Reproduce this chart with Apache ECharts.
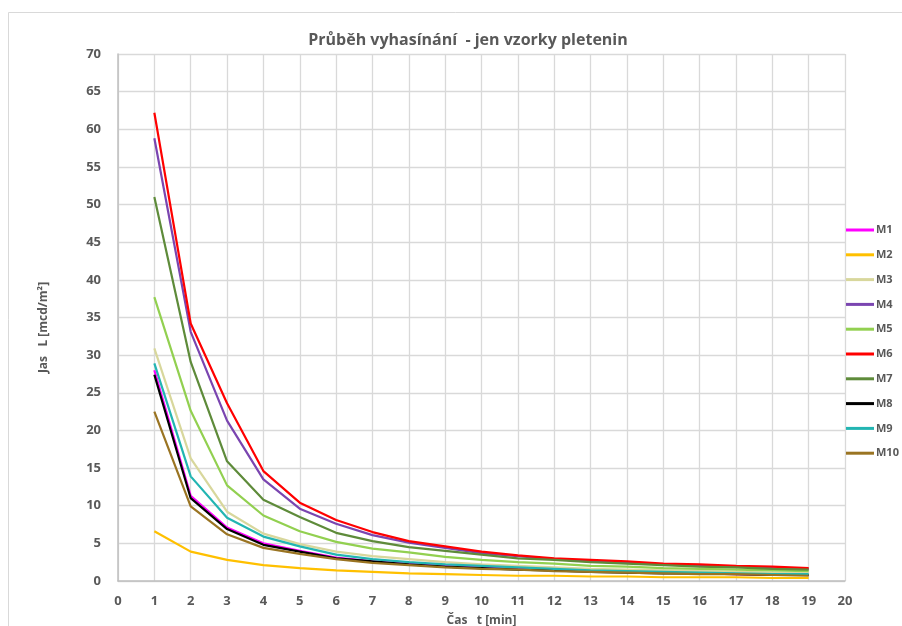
<!DOCTYPE html>
<html>
<head>
<meta charset="utf-8">
<script src="https://cdn.jsdelivr.net/npm/echarts@6/dist/echarts.min.js"></script>
<style>
  html, body { margin: 0; padding: 0; background: #fff; }
  #chart { width: 902px; height: 626px; }
</style>
</head>
<body>
<div id="chart"></div>
<script>
// Time in minutes
const times = [1, 2, 3, 4, 5, 6, 7, 8, 9, 10, 11, 12, 13, 14, 15, 16, 17, 18, 19];

// Luminance L [mcd/m²] per knitted sample
const M1  = [28.0, 11.3, 7.1, 5.0, 4.0, 3.1, 2.6, 2.3, 2.0, 1.8, 1.6, 1.4, 1.3, 1.2, 1.1, 1.0, 0.9, 0.8, 0.8];
const M2  = [6.6, 3.9, 2.8, 2.1, 1.7, 1.4, 1.2, 1.0, 0.9, 0.8, 0.7, 0.7, 0.6, 0.6, 0.5, 0.5, 0.5, 0.4, 0.4];
const M3  = [30.9, 16.3, 9.2, 6.3, 4.9, 3.9, 3.3, 2.9, 2.5, 2.2, 2.0, 1.8, 1.6, 1.5, 1.4, 1.3, 1.2, 1.1, 1.0];
const M4  = [58.8, 33.1, 21.3, 13.5, 9.6, 7.6, 6.1, 5.1, 4.4, 3.7, 3.3, 2.9, 2.6, 2.4, 2.2, 2.0, 1.9, 1.7, 1.6];
const M5  = [37.7, 22.6, 12.7, 8.7, 6.6, 5.2, 4.3, 3.8, 3.2, 2.8, 2.5, 2.3, 2.0, 1.9, 1.7, 1.6, 1.5, 1.4, 1.3];
const M6  = [62.2, 34.2, 23.6, 14.6, 10.4, 8.1, 6.5, 5.3, 4.6, 3.9, 3.4, 3.0, 2.8, 2.6, 2.3, 2.2, 2.0, 1.9, 1.7];
const M7  = [51.0, 29.1, 15.9, 10.8, 8.5, 6.4, 5.3, 4.5, 4.0, 3.5, 3.0, 2.8, 2.5, 2.3, 2.1, 1.9, 1.8, 1.6, 1.5];
const M8  = [27.4, 11.0, 6.9, 4.8, 3.9, 3.0, 2.6, 2.2, 1.9, 1.7, 1.5, 1.4, 1.2, 1.1, 1.0, 1.0, 0.9, 0.8, 0.8];
const M9  = [28.9, 13.9, 8.4, 5.9, 4.6, 3.5, 2.9, 2.5, 2.2, 2.0, 1.8, 1.6, 1.4, 1.3, 1.2, 1.1, 1.0, 0.9, 0.9];
const M10 = [22.5, 9.9, 6.2, 4.4, 3.6, 2.9, 2.4, 2.1, 1.8, 1.6, 1.5, 1.3, 1.2, 1.1, 1.0, 0.9, 0.9, 0.8, 0.7];

const seriesNames = ['M1', 'M2', 'M3', 'M4', 'M5', 'M6', 'M7', 'M8', 'M9', 'M10'];
const seriesValues = [M1, M2, M3, M4, M5, M6, M7, M8, M9, M10];
const seriesColors = ['#FF00FF', '#FFC000', '#D8D79C', '#7A45B0', '#92D050', '#FF0000', '#5E8B3A', '#000000', '#22B5B2', '#9A7422'];

const labelColor = '#595959';
const gridColor = '#d9d9d9';

const chart = echarts.init(document.getElementById('chart'), null, { renderer: 'canvas' });

chart.setOption({
  backgroundColor: '#ffffff',
  animation: false,
  title: {
    text: 'Průběh vyhasínání  - jen vzorky pletenin',
    left: 463,
    textAlign: 'center',
    top: 27,
    textStyle: { fontFamily: 'Open Sans', fontSize: 16, fontWeight: 'bold', color: labelColor }
  },
  graphic: [{
    type: 'rect',
    shape: { x: 8.5, y: 12.5, width: 900, height: 640 },
    style: { fill: 'none', stroke: gridColor, lineWidth: 1 },
    silent: true,
    z: -1
  }],
  legend: {
    orient: 'vertical',
    left: 841,
    top: 218,
    itemWidth: 28,
    itemHeight: 3,
    itemGap: 10.8,
    icon: 'rect',
    textStyle: { fontFamily: 'Open Sans', fontSize: 11, fontWeight: 'bold', color: labelColor, lineHeight: 14, padding: [0, 0, 0, -3] },
    data: seriesNames
  },
  grid: { left: 118, right: 57, top: 54, bottom: 45, containLabel: false, outerBoundsMode: 'none' },
  xAxis: {
    type: 'value',
    min: 0,
    max: 20,
    interval: 1,
    name: 'Čas   t [min]',
    nameLocation: 'middle',
    nameGap: 34,
    nameTextStyle: { fontFamily: 'Open Sans', fontSize: 12, fontWeight: 'bold', color: labelColor },
    axisLine: { show: true, lineStyle: { color: '#bfbfbf', width: 1.5 } },
    axisTick: { show: false },
    axisLabel: { fontFamily: 'Open Sans', fontSize: 13, fontWeight: 'bold', color: labelColor, margin: 14 },
    splitLine: { show: true, lineStyle: { color: gridColor, width: 1.3 } }
  },
  yAxis: {
    type: 'value',
    min: 0,
    max: 70,
    interval: 5,
    name: 'Jas   L [mcd/m²]',
    nameLocation: 'middle',
    nameGap: 68,
    nameTextStyle: { fontFamily: 'Open Sans', fontSize: 12, fontWeight: 'bold', color: labelColor, padding: [0, 20, 0, 0] },
    axisLine: { show: true, lineStyle: { color: '#bfbfbf', width: 1.5 } },
    axisTick: { show: false },
    axisLabel: { fontFamily: 'Open Sans', fontSize: 13, fontWeight: 'bold', color: labelColor, margin: 17 },
    splitLine: { show: true, lineStyle: { color: gridColor, width: 1.3 } }
  },
  series: seriesNames.map((name, i) => ({
    name: name,
    type: 'line',
    data: times.map((t, k) => [t, seriesValues[i][k]]),
    showSymbol: false,
    symbol: 'none',
    color: seriesColors[i],
    lineStyle: { width: 2.2, color: seriesColors[i] },
    z: 2 + i
  }))
});
</script>
</body>
</html>
